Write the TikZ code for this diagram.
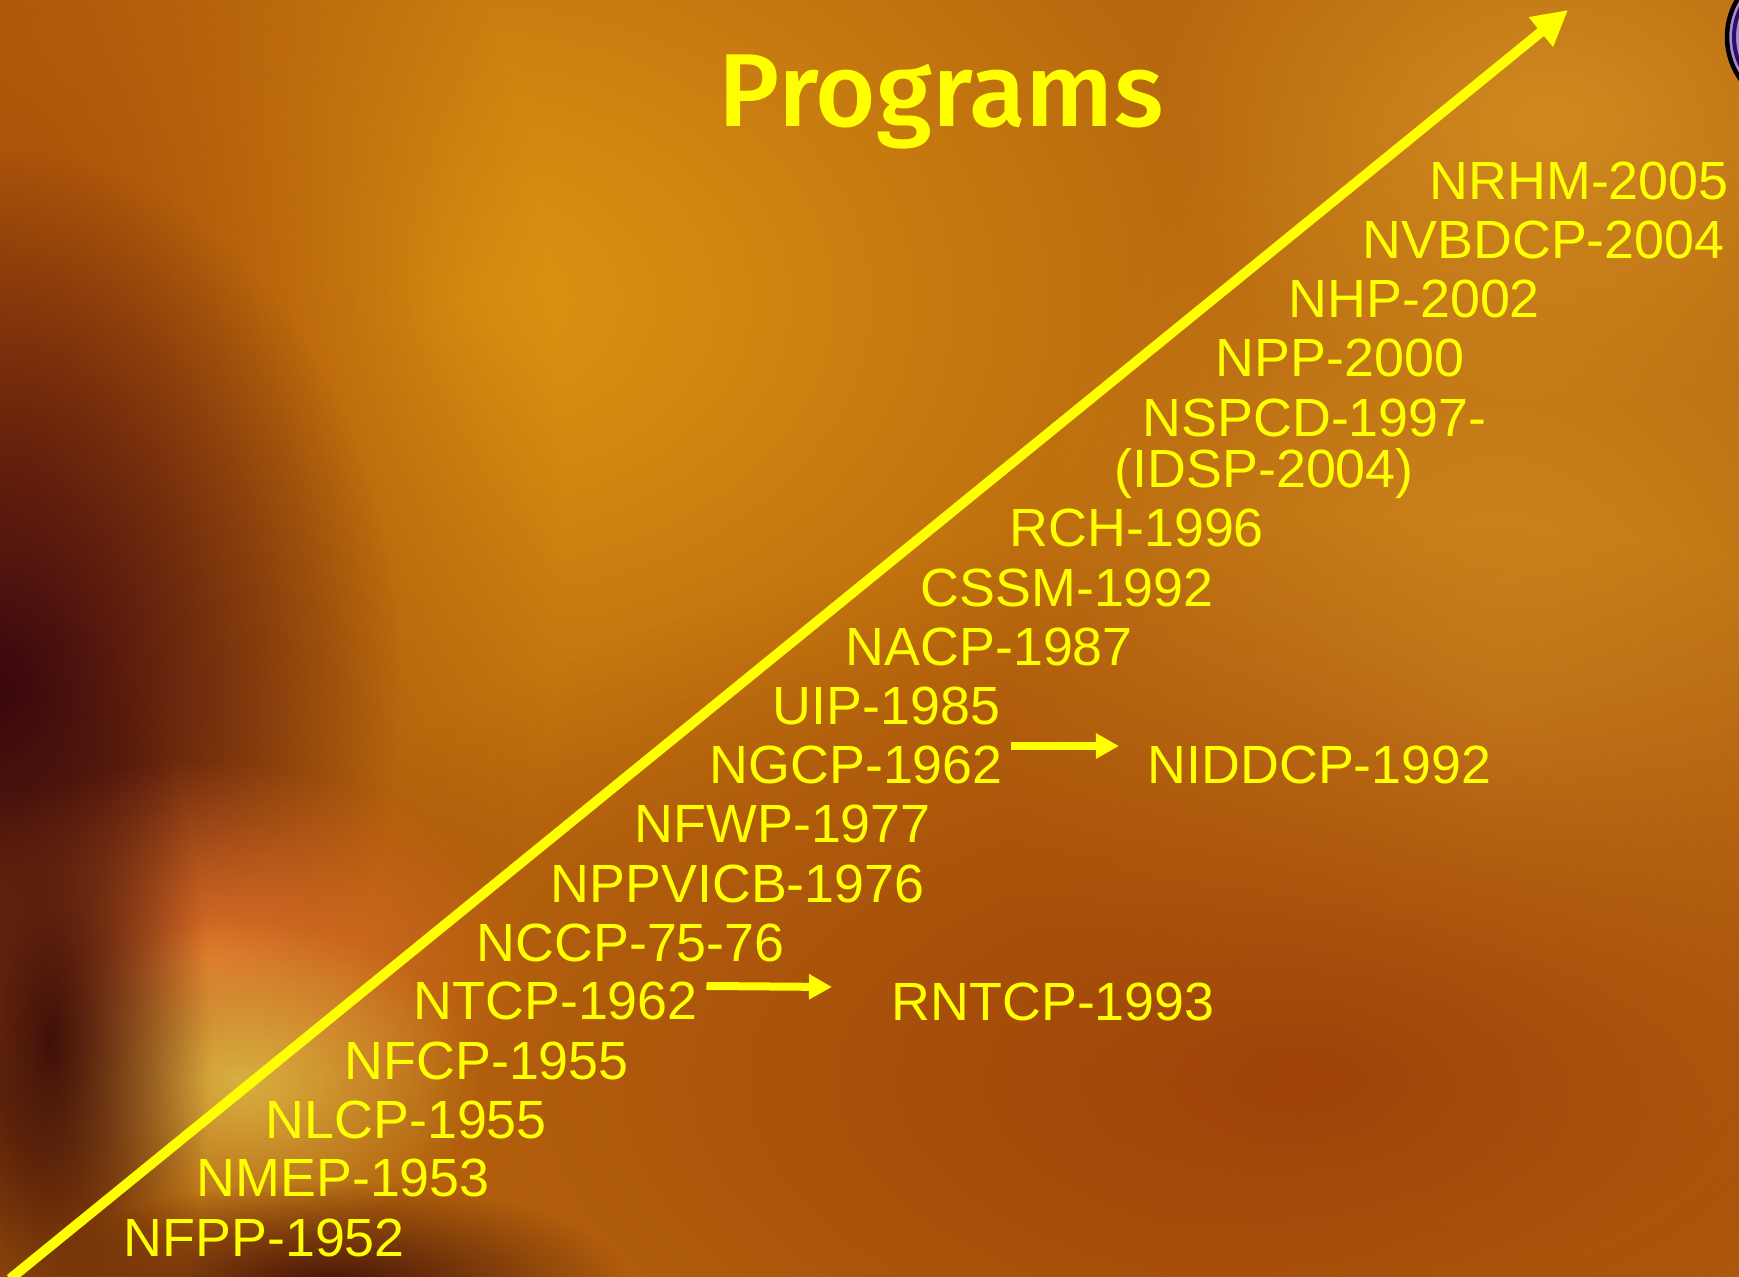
\documentclass[tikz,border=0pt]{standalone}
\usepackage{fontspec}
\setmainfont{Liberation Sans}
\newfontfamily\titlefont{Fira Sans Medium}
\usetikzlibrary{arrows.meta,calc,fadings}
\tikzfading[name=blob, inner color=transparent!0, outer color=transparent!100]
\definecolor{bgbase}{HTML}{B8680E}
\definecolor{hiorange}{HTML}{DE9612}
\definecolor{darkred}{HTML}{3A0610}
\definecolor{rust}{HTML}{9E4208}
\definecolor{ylw}{HTML}{FFFF00}
\definecolor{redorange}{HTML}{E0702A}
\definecolor{paleyellow}{HTML}{D8B040}
\definecolor{brownish}{HTML}{401008}
\definecolor{lightorange}{HTML}{D08A20}
\definecolor{lavender}{HTML}{A888D8}
\definecolor{deeppurple}{HTML}{2A1060}
\tikzset{
  lbl/.style={text=ylw, font=\fontsize{15.3}{17}\selectfont, anchor=base west, inner sep=0pt},
  titlestyle/.style={text=ylw, font=\titlefont\fontsize{29.5}{30}\selectfont, anchor=base west, inner sep=0pt},
  mainarrow/.style={draw=ylw, line width=0.1cm, -{Triangle[length=0.35cm, width=0.36cm]}},
  smallarrow/.style={draw=ylw, line width=0.08cm, -{Triangle[length=0.23cm, width=0.24cm]}},
  blobfill/.style={fill=#1, path fading=blob, draw=none}
}
\begin{document}
\begin{tikzpicture}[x=0.01cm, y=-0.01cm]
\useasboundingbox (0,0) rectangle (1739,1277);
\clip (0,0) rectangle (1739,1277);
% background
\fill[bgbase] (0,0) rectangle (1739,1277);
\fill[blobfill=hiorange] (470,300) ellipse (760 and 560);
\fill[blobfill=lightorange] (1500,720) ellipse (500 and 700);
\fill[blobfill=lightorange] (1550,120) ellipse (400 and 300);
\fill[blobfill=rust] (0,480) ellipse (560 and 950);
\fill[blobfill=darkred] (0,690) ellipse (400 and 540);
\fill[blobfill=rust] (1300,1080) ellipse (1100 and 560);
\fill[blobfill=redorange] (210,960) ellipse (320 and 200);
\fill[blobfill=paleyellow] (240,1080) ellipse (240 and 160);
\fill[blobfill=brownish] (50,1040) ellipse (160 and 420);
\fill[blobfill=brownish] (330,1290) ellipse (300 and 110);
% partial circle at top right
\draw[line width=0.045cm, draw=black, fill=lavender] (1800,37) circle (73);
\draw[line width=0.04cm, draw=deeppurple] (1800,37) circle (66);
% title
\node[titlestyle] (title) at (718,127) {Programs};
% labels
\node[lbl] (nrhm) at (1429,200) {NRHM-2005};
\node[lbl] (nvbdcp) at (1362,259) {NVBDCP-2004};
\node[lbl] (nhp) at (1288,318) {NHP-2002};
\node[lbl] (npp) at (1215,377) {NPP-2000};
\node[lbl] (nspcd) at (1142,437) {NSPCD-1997-};
\node[lbl] (idsp) at (1114,488) {(IDSP-2004)};
\node[lbl] (rch) at (1009,547) {RCH-1996};
\node[lbl] (cssm) at (920,607) {CSSM-1992};
\node[lbl] (nacp) at (845,666) {NACP-1987};
\node[lbl] (uip) at (772,725) {UIP-1985};
\node[lbl] (ngcp) at (709,784) {NGCP-1962};
\node[lbl] (niddcp) at (1147,784) {NIDDCP-1992};
\node[lbl] (nfwp) at (634,843) {NFWP-1977};
\node[lbl] (nppvicb) at (550,903) {NPPVICB-1976};
\node[lbl] (nccp) at (476,962) {NCCP-75-76};
\node[lbl] (ntcp) at (413,1020) {NTCP-1962};
\node[lbl] (rntcp) at (891,1021) {RNTCP-1993};
\node[lbl] (nfcp) at (344,1080) {NFCP-1955};
\node[lbl] (nlcp) at (265,1139) {NLCP-1955};
\node[lbl] (nmep) at (196,1197) {NMEP-1953};
\node[lbl] (nfpp) at (123,1257) {NFPP-1952};
% main arrow
\coordinate (start) at (10,1279);
\coordinate (tip) at (1568,10);
\draw[mainarrow] (start) -- (tip);
% small arrows
\draw[smallarrow] ($(ngcp.base east)+(8,-38)$) -- ($(niddcp.base west)+(-28,-38)$);
\draw[smallarrow] ($(ntcp.base east)+(8,-34)$) -- ($(rntcp.base west)+(-59,-34)$);
\end{tikzpicture}
\end{document}
